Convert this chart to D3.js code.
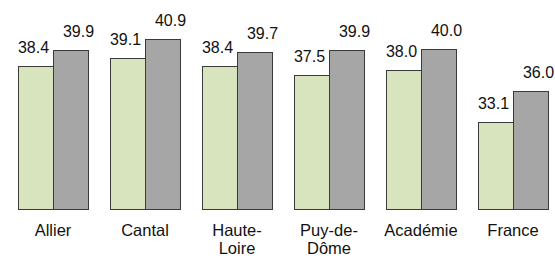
<!DOCTYPE html>
<html>
<head>
<meta charset="utf-8">
<script src="https://cdn.jsdelivr.net/npm/d3@7"></script>
<style>
  body { margin: 0; background: #fff; }
  text { font-family: Arial, "Liberation Sans", sans-serif; fill: #111; }
</style>
</head>
<body>
<div id="chart"></div>
<script>
// Data
var categories = ["Allier", "Cantal", "Haute-Loire", "Puy-de-Dôme", "Académie", "France"];
var categoryLines = [["Allier"], ["Cantal"], ["Haute-", "Loire"], ["Puy-de-", "Dôme"], ["Académie"], ["France"]];
var series1 = [38.4, 39.1, 38.4, 37.5, 38.0, 33.1];
var series2 = [39.9, 40.9, 39.7, 39.9, 40.0, 36.0];

var svg = d3.select("#chart").append("svg")
    .attr("width", 555)
    .attr("height", 259);

// Scales
var x = d3.scaleBand()
    .domain(categories)
    .range([7, 559])
    .paddingInner(22 / 92)
    .paddingOuter(11 / 92);

var sub = d3.scaleBand()
    .domain([0, 1])
    .range([0, x.bandwidth()]);

var y = d3.scaleLinear()
    .domain([25, 40.9])
    .range([208.5, 39.3]);

var colors = ["#d7e4bd", "#a6a6a6"];
var labelShift = [-2, 8];

var rows = categories.map((c, i) => ({ cat: c, vals: [series1[i], series2[i]] }));

var groups = svg.selectAll(".group")
    .data(rows)
    .enter().append("g")
    .attr("class", "group")
    .attr("transform", d => "translate(" + x(d.cat) + ",0)");

groups.selectAll("rect")
    .data(d => d.vals.map((v, k) => ({ v: v, k: k })))
    .enter().append("rect")
    .attr("x", d => sub(d.k) + 0.5)
    .attr("y", d => Math.round(y(d.v)) + 0.5)
    .attr("width", sub.bandwidth())
    .attr("height", d => Math.round(y(25)) - Math.round(y(d.v)))
    .style("fill", d => colors[d.k])
    .style("stroke", "#3a3a3a")
    .style("stroke-width", 1);

groups.selectAll(".val")
    .data(d => d.vals.map((v, k) => ({ v: v, k: k })))
    .enter().append("text")
    .attr("class", "val")
    .attr("x", d => sub(d.k) + sub.bandwidth() / 2 + labelShift[d.k])
    .attr("y", d => y(d.v) - 13)
    .attr("text-anchor", "middle")
    .style("font-size", "16px")
    .text(d => d3.format(".1f")(d.v));

// Category labels, one text per line
categories.forEach((c, i) => {
    categoryLines[i].forEach((line, j) => {
        svg.append("text")
            .attr("class", "cat")
            .attr("x", x(c) + x.bandwidth() / 2)
            .attr("y", 236 + j * 18)
            .attr("text-anchor", "middle")
            .style("font-size", "16.5px")
            .text(line);
    });
});
</script>
</body>
</html>
